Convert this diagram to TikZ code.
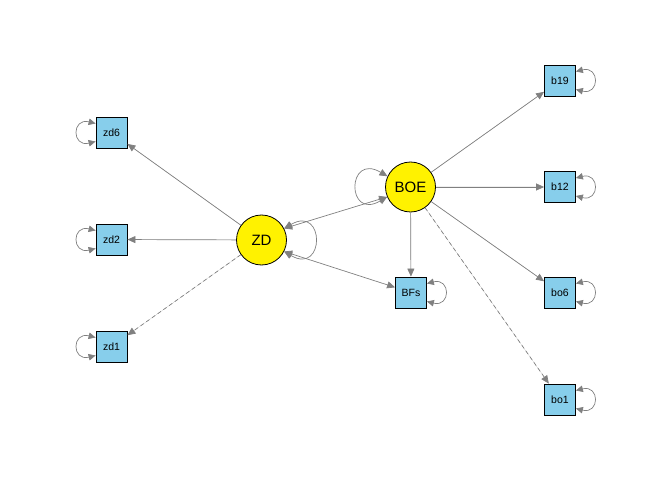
\documentclass[tikz,border=0pt]{standalone}
\usepackage{fontspec}
\setmainfont{Liberation Sans}
\usetikzlibrary{arrows.meta}
\definecolor{edgegray}{HTML}{808080}
\definecolor{boxblue}{HTML}{87CEEB}
\begin{document}
\begin{tikzpicture}[x=1pt,y=1pt,
  obsbox/.style={draw=black,line width=0.8pt,fill=boxblue,minimum size=31pt,inner sep=0pt,font=\fontsize{10.5}{12}\selectfont},
  latcirc/.style={draw=black,line width=0.8pt,fill=yellow,circle,minimum size=50pt,inner sep=0pt,font=\fontsize{15}{18}\selectfont},
  edge/.style={draw=edgegray,line width=0.7pt,-{Triangle[length=8pt,width=7pt]},fill=edgegray},
  dedge/.style={edge,dash pattern=on 4pt off 3pt},
  cov/.style={draw=edgegray,line width=0.7pt,{Triangle[length=8pt,width=7pt]}-{Triangle[length=8pt,width=7pt]}},
  lp/.style={draw=edgegray,line width=0.7pt,{Triangle[length=7pt,width=6.5pt]}-{Triangle[length=7pt,width=6.5pt]}}
]
\useasboundingbox (0,0) rectangle (672,480);
\node[obsbox] (zd6) at (111.5,347.5) {zd6};
\node[obsbox] (zd2) at (111.5,240.5) {zd2};
\node[obsbox] (zd1) at (111.5,133.5) {zd1};
\node[latcirc] (ZD) at (261.5,240) {ZD};
\node[latcirc] (BOE) at (410.5,293) {BOE};
\node[obsbox] (BFs) at (411,187.5) {BFs};
\node[obsbox] (b19) at (560,399.5) {b19};
\node[obsbox] (b12) at (560,293) {b12};
\node[obsbox] (bo6) at (560,187.5) {bo6};
\node[obsbox] (bo1) at (560,80.5) {bo1};

% loadings
\draw[edge] (ZD) -- (zd6);
\draw[edge] (ZD) -- (zd2);
\draw[dedge] (ZD) -- (zd1);
\draw[edge] (BOE) -- (b19);
\draw[edge] (BOE) -- (b12);
\draw[edge] (BOE) -- (bo6);
\draw[dedge] (BOE) -- (bo1);
\draw[edge] (BOE) -- (BFs);

% covariances
\draw[cov] (ZD.27) -- (BOE.203);
\draw[cov] (ZD.-27) -- (BFs);

% variance loops
\draw[cov] (ZD.27) .. controls +(41,24) and +(41,-24) .. (ZD.-27);
\draw[cov] (BOE.155) .. controls +(-41,24) and +(-41,-24) .. (BOE.203);
\foreach \n in {zd6,zd2,zd1}{
  \draw[lp] ([yshift=9pt]\n.west) .. controls +(-24,6) and +(-24,-6) .. ([yshift=-9pt]\n.west);
}
\foreach \n in {b19,b12,bo6,bo1,BFs}{
  \draw[lp] ([yshift=9pt]\n.east) .. controls +(24,6) and +(24,-6) .. ([yshift=-9pt]\n.east);
}
\end{tikzpicture}
\end{document}
